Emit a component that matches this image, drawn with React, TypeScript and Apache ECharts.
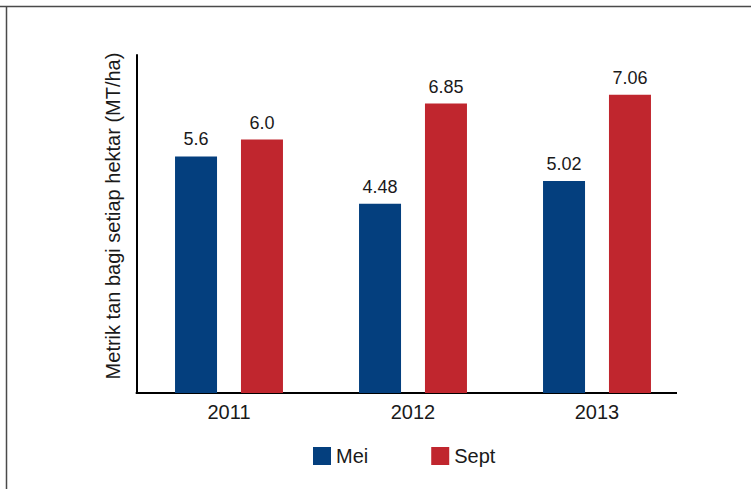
import React, { useEffect, useRef } from "react";
import * as echarts from "echarts";

const categories = ["2011", "2012", "2013"];
const meiValues = [5.6, 4.48, 5.02];
const septValues = [6.0, 6.85, 7.06];
const meiLabels = ["5.6", "4.48", "5.02"];
const septLabels = ["6.0", "6.85", "7.06"];
const seriesNames = ["Mei", "Sept"];
const yAxisTitle = "Metrik tan bagi setiap hektar (MT/ha)";

const FONT = "'Liberation Sans', Arial, Helvetica, sans-serif";
const TEXT = "#1a1a1a";

export default function App() {
  const ref = useRef<HTMLDivElement>(null);

  useEffect(() => {
    if (!ref.current) return;
    const chart = echarts.init(ref.current, null, { renderer: "svg" });
    const labelFor = (labels: string[]) => ({
      show: true,
      position: "top",
      distance: 8,
      fontSize: 18,
      fontFamily: FONT,
      color: TEXT,
      formatter: (p: any) => labels[p.dataIndex],
    });
    chart.setOption({
      animation: false,
      backgroundColor: "#ffffff",
      textStyle: { fontFamily: FONT },
      grid: { left: 137, top: 55, width: 552, height: 338, containLabel: false },
      legend: {
        left: 308,
        top: 441,
        icon: "rect",
        itemWidth: 18,
        itemHeight: 18,
        itemGap: 63,
        textStyle: { fontSize: 20, fontFamily: FONT, color: TEXT },
        data: seriesNames,
      },
      xAxis: {
        type: "category",
        data: categories,
        axisLine: { show: false },
        axisTick: { show: false },
        axisLabel: { fontSize: 20, fontFamily: FONT, color: TEXT, margin: 9 },
      },
      yAxis: {
        type: "value",
        min: 0,
        max: 8,
        interval: 1,
        axisLine: { show: true, lineStyle: { color: "#000", width: 2 } },
        axisTick: { show: false },
        axisLabel: { show: false },
        splitLine: { show: false },
      },
      series: [
        {
          name: seriesNames[0],
          type: "bar",
          data: meiValues,
          barWidth: 42,
          barGap: "57%",
          itemStyle: { color: "#043F7E" },
          label: labelFor(meiLabels),
        },
        {
          name: seriesNames[1],
          type: "bar",
          data: septValues,
          barWidth: 42,
          barGap: "57%",
          itemStyle: { color: "#C0262E" },
          label: labelFor(septLabels),
        },
      ],
      graphic: [
        {
          type: "line",
          shape: { x1: 0, y1: 6.5, x2: 751, y2: 6.5 },
          style: { stroke: "#4a4a4a", lineWidth: 1.5 },
          silent: true,
        },
        {
          type: "line",
          shape: { x1: 6.5, y1: 6, x2: 6.5, y2: 489 },
          style: { stroke: "#4a4a4a", lineWidth: 1.5 },
          silent: true,
        },
        {
          type: "line",
          shape: { x1: 135.7, y1: 393, x2: 677, y2: 393 },
          style: { stroke: "#000", lineWidth: 2 },
          silent: true,
        },
        {
          type: "text",
          x: 112.5,
          y: 216,
          rotation: Math.PI / 2,
          style: {
            text: yAxisTitle,
            fontSize: 20,
            fontFamily: FONT,
            fill: TEXT,
            align: "center",
            verticalAlign: "middle",
          },
          silent: true,
        },
      ],
    });
    return () => chart.dispose();
  }, []);

  return (
    <div
      ref={ref}
      style={{ position: "fixed", left: 0, top: 0, width: 751, height: 489, background: "#fff" }}
    />
  );
}
